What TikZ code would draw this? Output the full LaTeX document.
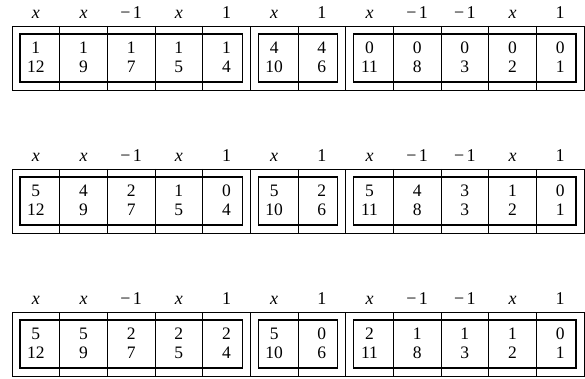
\documentclass[tikz,border=0pt]{standalone}
\usepackage{fontspec}
\setmainfont{Liberation Serif}
\newcommand\cwid{47.667}
\newcommand\mone{−\kern2.5pt1}
\newcommand\tabrow[3]{%
  \foreach \s/\e in {0/5,5/7,7/12}{%
    \draw[outerl] ({12+\s*\cwid},#1) rectangle ({12+\e*\cwid},#1+64);
    \draw[innerl] ({12+\s*\cwid+8},#1+8) rectangle ({12+\e*\cwid-8},#1+56);
  }
  \foreach \k in {1,2,3,4,6,8,9,10,11} \draw[outerl] ({12+\k*\cwid},#1) -- ({12+\k*\cwid},#1+64);
  \foreach \v [count=\i from 0] in {#3}
    \node[txt] (#2a\i) at ({12+(\i+0.5)*\cwid},#1+27.3) {\v};
  \foreach \b/\l [count=\i from 0] in {12/\textit{x},9/\textit{x},7/\mone,5/\textit{x},4/1,10/\textit{x},6/1,11/\textit{x},8/\mone,3/\mone,2/\textit{x},1/1}{
    \node[txt] (#2b\i) at ({12+(\i+0.5)*\cwid},#1+46.7) {\b};
    \node[lbl] (#2l\i) at ({12+(\i+0.5)*\cwid},#1-7.7) {\l};
  }
}
\begin{document}
\begin{tikzpicture}[x=1pt,y=-1pt,
  outerl/.style={line width=0.7pt},
  innerl/.style={line width=1.5pt},
  txt/.style={anchor=base,inner sep=0pt,font=\fontsize{17.5}{20}\selectfont},
  lbl/.style={anchor=base,inner sep=0pt,font=\fontsize{18}{20}\selectfont}]
\useasboundingbox (0,0) rectangle (585,379);
\tabrow{26}{r}{1,1,1,1,1,4,4,0,0,0,0,0}
\tabrow{169}{s}{5,4,2,1,0,5,2,5,4,3,1,0}
\tabrow{312}{t}{5,5,2,2,2,5,0,2,1,1,1,0}
\end{tikzpicture}
\end{document}
